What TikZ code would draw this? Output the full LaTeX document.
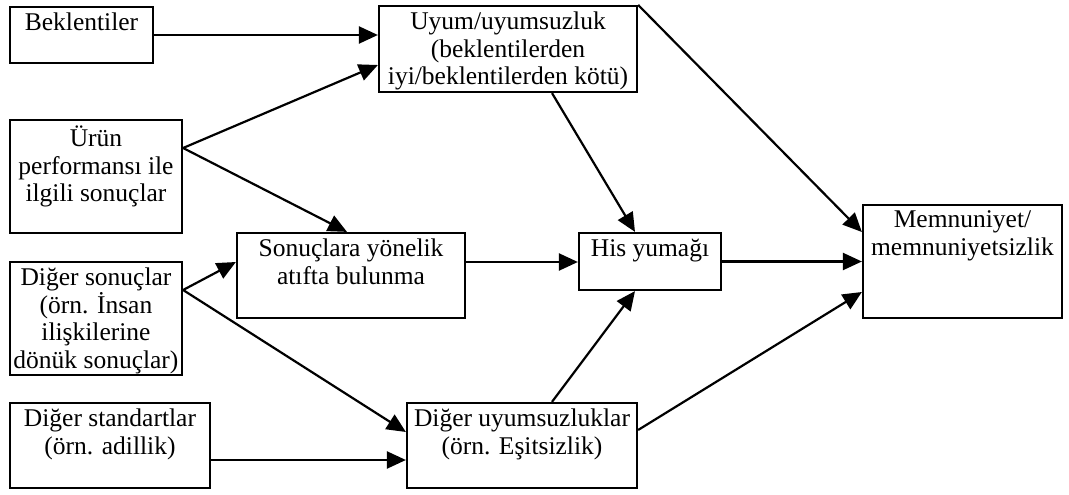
\documentclass[tikz,border=0pt]{standalone}
\usepackage{fontspec}
\setmainfont{Liberation Serif}
\usetikzlibrary{arrows.meta,calc}

\begin{document}
\begin{tikzpicture}[
  x=1pt, y=-1pt,
  box/.style={draw, line width=2.2pt, inner sep=0pt},
  txt/.style={anchor=north, align=center, inner sep=0pt, yshift=-7pt, font=\fontsize{25.5}{27.5}\selectfont},
  arr/.style={-{Triangle[length=19pt, width=17pt]}, line width=2.2pt}
]
\useasboundingbox (0,0) rectangle (1069,495);

\node[box, minimum width=143, minimum height=56,
  label={[txt]north:Beklentiler}] (bek) at (81.5,35) {};
\node[box, minimum width=258, minimum height=86,
  label={[txt]north:Uyum/uyumsuzluk\\(beklentilerden\\iyi/beklentilerden kötü)}] (uyum) at (508,49) {};
\node[box, minimum width=172, minimum height=113,
  label={[txt]north:Ürün\\performansı ile\\ilgili sonuçlar}] (urun) at (96,176.5) {};
\node[box, minimum width=228, minimum height=85,
  label={[txt]north:Sonuçlara yönelik\\atıfta bulunma}] (son) at (351,275.5) {};
\node[box, minimum width=172, minimum height=113,
  label={[txt]north:Diğer sonuçlar\\(örn. İnsan\\ilişkilerine\\dönük sonuçlar)}] (dso) at (96,318.5) {};
\node[box, minimum width=200, minimum height=85,
  label={[txt]north:Diğer standartlar\\(örn. adillik)}] (dst) at (110,445.5) {};
\node[box, minimum width=230, minimum height=85,
  label={[txt]north:Diğer uyumsuzluklar\\(örn. Eşitsizlik)}] (duy) at (522,445.5) {};
\node[box, minimum width=142, minimum height=57,
  label={[txt]north:His yumağı}] (his) at (650,261.5) {};
\node[box, minimum width=199, minimum height=113,
  label={[txt]north:Memnuniyet/\\memnuniyetsizlik}] (mem) at (962.5,261.5) {};

% inputs
\draw[arr] (bek.east) -- (bek.east -| uyum.west);
\draw[arr] ([yshift=28.5pt]urun.east) -- ([yshift=-16pt]uyum.west);
\draw[arr] ([yshift=28.5pt]urun.east) -- ([xshift=-4pt]son.north);
\draw[arr] ([yshift=28.5pt]dso.east) -- ([yshift=13.5pt]son.west);
\draw[arr] ([yshift=28.5pt]dso.east) -- ([yshift=13.5pt]duy.west);
\draw[arr] ([yshift=-14.5pt]dst.east) -- ([yshift=-14.5pt]dst.east -| duy.west);

% middle
\draw[arr] ([yshift=13.5pt]son.east) -- ([yshift=13.5pt]son.east -| his.west);
\draw[arr] ([xshift=44pt]uyum.south) -- ([xshift=-15pt]his.north);
\draw[arr] ([xshift=30pt]duy.north) -- ([xshift=-15pt]his.south);

% to satisfaction
\draw[arr] (uyum.north east) -- ([yshift=29.5pt]mem.west);
\draw[arr] (his.east) -- (his.east -| mem.west);
\draw[arr] ([yshift=15.5pt]duy.east) -- ([yshift=-30.5pt]mem.west);
\end{tikzpicture}
\end{document}
